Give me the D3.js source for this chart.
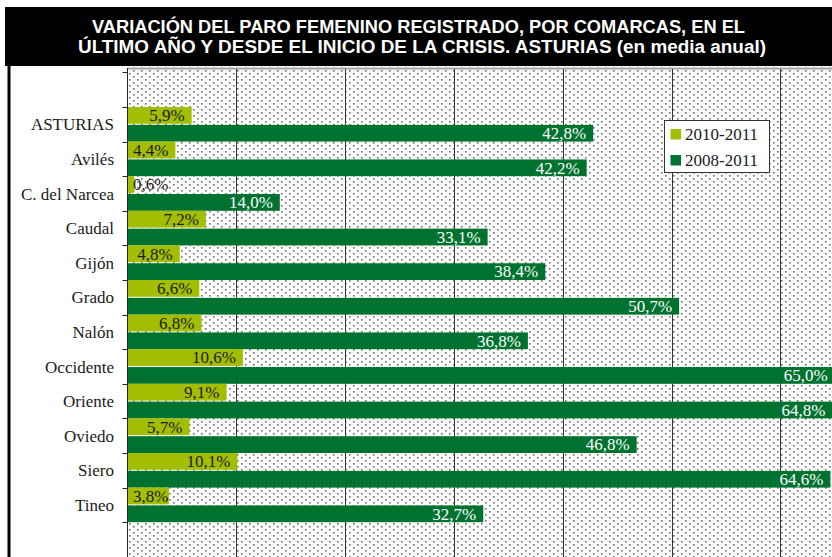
<!DOCTYPE html>
<html>
<head>
<meta charset="utf-8">
<script src="https://cdn.jsdelivr.net/npm/d3@7"></script>
<style>
  html, body { margin: 0; padding: 0; background: #fff; }
  svg { display: block; }
  .serif { font-family: "Liberation Serif", "Times New Roman", Times, "DejaVu Serif", "Noto Serif", serif; font-size: 17px; }
</style>
</head>
<body>
<div id="chart"></div>
<script>
// data
const comarcas = ["ASTURIAS", "Avilés", "C. del Narcea", "Caudal", "Gijón", "Grado", "Nalón",
	"Occidente", "Oriente", "Oviedo", "Siero", "Tineo"];
const series = ["2010-2011", "2008-2011"];
const var2010_2011 = [5.9, 4.4, 0.6, 7.2, 4.8, 6.6, 6.8, 10.6, 9.1, 5.7, 10.1, 3.8];
const var2008_2011 = [42.8, 42.2, 14.0, 33.1, 38.4, 50.7, 36.8, 65.0, 64.8, 46.8, 64.6, 32.7];
const gridTicks = [10, 20, 30, 40, 50, 60, 70];
const titleLines = [
	"VARIACIÓN DEL PARO FEMENINO REGISTRADO, POR COMARCAS, EN EL",
	"ÚLTIMO AÑO Y DESDE EL INICIO DE LA CRISIS. ASTURIAS (en media anual)"
];

const W = 832, H = 557;
const colors = { "2010-2011": "#a3be00", "2008-2011": "#00722f" };

const svg = d3.select("#chart").append("svg")
	.attr("width", W)
	.attr("height", H);

// dotted background pattern
const defs = svg.append("defs");
const pat = defs.append("pattern")
	.attr("id", "dots")
	.attr("patternUnits", "userSpaceOnUse")
	.attr("width", 8)
	.attr("height", 6);
pat.append("rect").attr("width", 8).attr("height", 6).attr("fill", "#fff");
pat.append("rect").attr("x", 1).attr("y", 1).attr("width", 1.6).attr("height", 1.6).attr("fill", "#707070");
pat.append("rect").attr("x", 5).attr("y", 4).attr("width", 1.6).attr("height", 1.6).attr("fill", "#707070");

// title block
svg.append("rect")
	.attr("x", 5).attr("y", 7)
	.attr("width", W - 5).attr("height", 59)
	.attr("fill", "#000");

const titleX = [92, 78], titleW = [653, 688], titleY = [33.3, 53.3];
svg.selectAll("text.title")
	.data(titleLines)
	.enter().append("text")
	.attr("class", "title")
	.attr("x", (d, i) => titleX[i])
	.attr("y", (d, i) => titleY[i])
	.attr("textLength", (d, i) => titleW[i])
	.attr("lengthAdjust", "spacingAndGlyphs")
	.attr("fill", "#fff")
	.style("font-family", "'Liberation Sans', Arial, sans-serif")
	.style("font-weight", "bold")
	.style("font-size", "17.5px")
	.text(d => d);

// left border
svg.append("rect")
	.attr("x", 7.5).attr("y", 66)
	.attr("width", 3).attr("height", H - 66)
	.attr("fill", "#000");

// scales
const x = d3.scaleLinear()
	.domain([0, 80])
	.range([127.5, 127.5 + 870.4]);

const y = d3.scaleBand()
	.domain(["_top"].concat(comarcas, ["_bottom"]))
	.range([72.4, 72.4 + 14 * 34.6]);

const yInner = d3.scaleBand()
	.domain(series)
	.range([0, y.bandwidth()])
	.paddingInner(0.06);

// plot area
svg.append("rect")
	.attr("x", x(0)).attr("y", 68)
	.attr("width", W - x(0)).attr("height", H - 68)
	.attr("fill", "url(#dots)");
svg.append("line")
	.attr("x1", x(0)).attr("x2", W)
	.attr("y1", 68.5).attr("y2", 68.5)
	.attr("stroke", "#a6a6a6")
	.attr("stroke-width", 2);

// gridlines
svg.selectAll("line.grid")
	.data(gridTicks)
	.enter().append("line")
	.attr("class", "grid")
	.attr("x1", d => Math.round(x(d)) + 0.5)
	.attr("x2", d => Math.round(x(d)) + 0.5)
	.attr("y1", 69).attr("y2", H)
	.attr("stroke", "#333")
	.attr("stroke-width", 1);

// bars
const rows = comarcas.map((c, i) => ({ c, vals: [var2010_2011[i], var2008_2011[i]] }));
const groups = svg.selectAll("g.row")
	.data(rows)
	.enter().append("g")
	.attr("class", "row")
	.attr("transform", d => "translate(0," + y(d.c) + ")");

const cells = groups.selectAll("g.cell")
	.data(d => series.map((s, j) => ({ s, v: d.vals[j] })))
	.enter().append("g")
	.attr("class", "cell");

cells.append("rect")
	.attr("x", x(0))
	.attr("y", d => yInner(d.s))
	.attr("width", d => x(d.v) - x(0))
	.attr("height", yInner.bandwidth())
	.attr("fill", d => colors[d.s]);

cells.append("text")
	.attr("class", "serif")
	.attr("y", d => yInner(d.s) + yInner.bandwidth() / 2 + 5.8)
	.attr("fill", d => d.s === "2008-2011" ? "#fff" : "#1a1a1a")
	.text(d => d.v.toFixed(1).replace(".", ",") + "%")
	.each(function(d) {
		const w = this.getComputedTextLength();
		const start = Math.max(x(d.v) - 7 - w, x(0) + 5.5);
		d3.select(this).attr("x", start);
	});

// left axis
const axisG = svg.append("g");
axisG.append("line")
	.attr("x1", 127.5).attr("x2", 127.5)
	.attr("y1", 68).attr("y2", H)
	.attr("stroke", "#222");
const tickYs = d3.range(15).map(i => y.range()[0] + i * y.step());
axisG.selectAll("line.tick")
	.data(tickYs)
	.enter().append("line")
	.attr("class", "tick")
	.attr("x1", 122.5).attr("x2", 127.5)
	.attr("y1", d => Math.round(d) + 0.5)
	.attr("y2", d => Math.round(d) + 0.5)
	.attr("stroke", "#222");

axisG.selectAll("text.cat")
	.data(comarcas)
	.enter().append("text")
	.attr("class", "cat serif")
	.attr("x", 114)
	.attr("y", d => y(d) + y.bandwidth() / 2 + 6)
	.attr("text-anchor", "end")
	.attr("fill", "#1a1a1a")
	.text(d => d);

// legend
const legend = svg.append("g").attr("transform", "translate(664,120)");
legend.append("rect")
	.attr("x", 0.5).attr("y", 0.5)
	.attr("width", 105).attr("height", 52)
	.attr("fill", "#fff")
	.attr("stroke", "#333");
const li = legend.selectAll("g.item")
	.data(series)
	.enter().append("g")
	.attr("class", "item")
	.attr("transform", (d, i) => "translate(0," + (i * 26) + ")");
li.append("rect")
	.attr("x", 6.5).attr("y", 9)
	.attr("width", 10.5).attr("height", 10.5)
	.attr("fill", d => colors[d]);
li.append("text")
	.attr("class", "serif")
	.attr("x", 21)
	.attr("y", 20)
	.attr("fill", "#1a1a1a")
	.text(d => d);
</script>
</body>
</html>
